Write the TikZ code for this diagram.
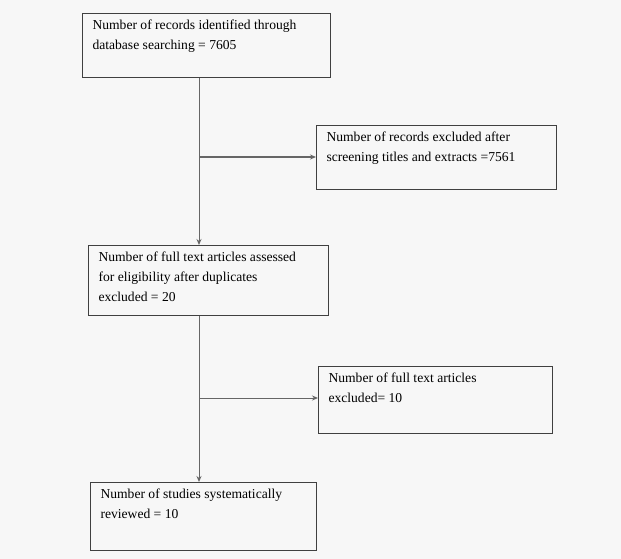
\documentclass[tikz,border=0pt]{standalone}
\usepackage{fontspec}
\setmainfont{Liberation Serif}
\usetikzlibrary{arrows.meta, calc}

\tikzset{
  recbox/.style={draw=black!75, line width=1pt, anchor=north west, align=left,
    inner xsep=10pt, inner ysep=6pt,
    font=\fontsize{13.6}{20}\selectfont},
  flow/.style={draw=black!60, line width=1pt},
  flowarrow/.style={flow, -{Stealth[length=6pt,width=5pt]}}
}
\newcommand{\boxtext}[3]{\parbox[t][#2][t]{#1}{\raggedright #3}}

\begin{document}
\begin{tikzpicture}[x=1pt,y=-1pt]
\useasboundingbox[fill=black!3] (0,0) rectangle (621,559);
% boxes
\node[recbox] (ident) at (82,13)
  {\boxtext{228pt}{52pt}{Number of records identified through\\database searching = 7605}};
\node[recbox] (screen) at (316,125)
  {\boxtext{220pt}{52pt}{Number of records excluded after\\screening titles and extracts =7561}};
\node[recbox] (full) at (88,245)
  {\boxtext{220pt}{58pt}{Number of full text articles assessed\\for eligibility after duplicates\\excluded = 20}};
\node[recbox] (fullex) at (318,366)
  {\boxtext{214pt}{55pt}{Number of full text articles\\excluded= 10}};
\node[recbox] (review) at (90,482)
  {\boxtext{206pt}{56pt}{Number of studies systematically\\reviewed = 10}};
% connectors
\coordinate (b1) at (199,157);
\coordinate (b2) at (199,398);
\draw[flowarrow] (ident.south -| b1) -- (full.north -| b1);
\draw[flowarrow] (b1) -- (screen.west |- b1);
\draw[flowarrow] (full.south -| b2) -- (review.north -| b2);
\draw[flowarrow] (b2) -- (fullex.west |- b2);
\end{tikzpicture}
\end{document}
